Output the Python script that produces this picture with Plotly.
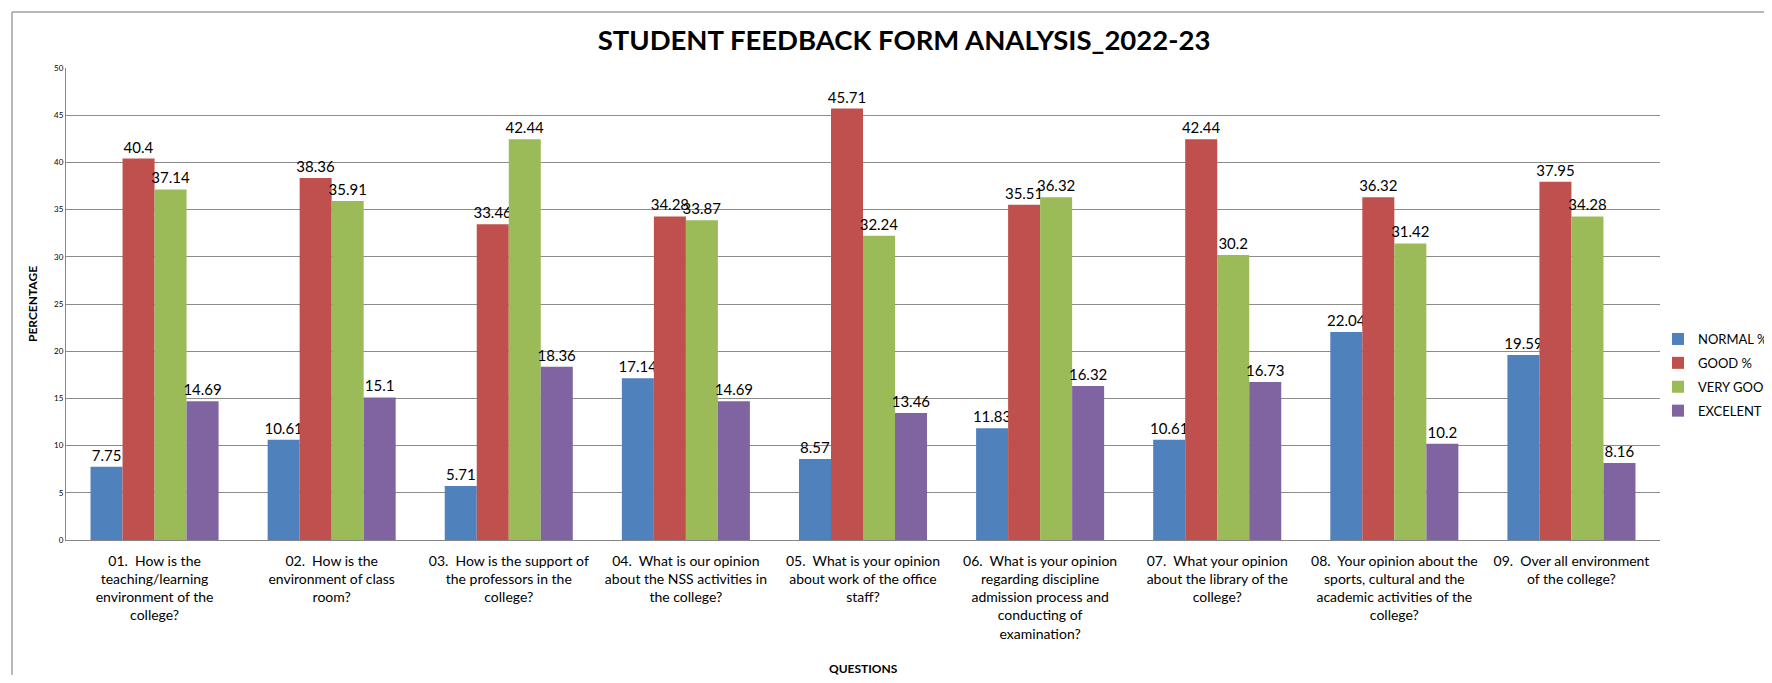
import plotly.graph_objects as go

categories = [
    "01.  How is the<br>teaching/learning<br>environment of the<br>college?",
    "02.  How is the<br>environment of class<br>room?",
    "03.  How is the support of<br>the professors in the<br>college?",
    "04.  What is our opinion<br>about the NSS activities in<br>the college?",
    "05.  What is your opinion<br>about work of the office<br>staff?",
    "06.  What is your opinion<br>regarding discipline<br>admission process and<br>conducting of<br>examination?",
    "07.  What your opinion<br>about the library of the<br>college?",
    "08.  Your opinion about the<br>sports, cultural and the<br>academic activities of the<br>college?",
    "09.  Over all environment<br>of the college?",
]
normal = [7.75, 10.61, 5.71, 17.14, 8.57, 11.83, 10.61, 22.04, 19.59]
good = [40.4, 38.36, 33.46, 34.28, 45.71, 35.51, 42.44, 36.32, 37.95]
very_good = [37.14, 35.91, 42.44, 33.87, 32.24, 36.32, 30.2, 31.42, 34.28]
excelent = [14.69, 15.1, 18.36, 14.69, 13.46, 16.32, 16.73, 10.2, 8.16]

series_names = ["NORMAL %", "GOOD %", "VERY GOOD %", "EXCELENT %"]
series_values = [normal, good, very_good, excelent]
colors = ["#4F81BD", "#C0504D", "#9BBB59", "#8064A2"]

FONT = "Lato, 'Open Sans', sans-serif"
OFF = 8  # page body margin
W, H = 1772 - 2 * OFF, 683 - 2 * OFF
# plot-area edges in page pixels, converted to figure pixels
L, R, T, B = 66 - OFF, 1660 - OFF, 68 - OFF, 540 - OFF

fig = go.Figure()
for name, vals, col in zip(series_names, series_values, colors):
    fig.add_trace(go.Bar(
        x=categories, y=vals, name=name,
        marker=dict(color=col, line=dict(width=0)),
        text=[f"{v:g}" for v in vals],
        textposition="outside",
        constraintext="none",
        cliponaxis=False,
        textfont=dict(family=FONT, size=15, color="#000000"),
        legendgroup=name,
    ))

pw, ph = R - L, B - T
def px(xpage):
    return (xpage - OFF - L) / pw
def py(ypage):
    return (B - (ypage - OFF)) / ph

fig.update_layout(
    width=W, height=H,
    margin=dict(l=L, r=W - R, t=T, b=H - B, autoexpand=False),
    paper_bgcolor="white", plot_bgcolor="white",
    barmode="group", bargap=0.277, bargroupgap=0,
    font=dict(family=FONT, color="#000000"),
    title=dict(
        text="<b>STUDENT FEEDBACK FORM ANALYSIS_2022-23</b>",
        x=(904 - OFF) / W, xref="container", xanchor="center",
        y=1 - (40 - OFF) / H, yref="container", yanchor="middle",
        font=dict(family=FONT, size=27.5, color="#000000"),
    ),
    legend=dict(
        x=px(1658), y=py(324), xanchor="left", yanchor="top",
        font=dict(family=FONT, size=13, color="#000000"),
        tracegroupgap=4, itemwidth=30, bgcolor="rgba(0,0,0,0)",
    ),
    showlegend=True,
    xaxis=dict(
        showgrid=False, showline=True, linecolor="#868686", linewidth=1,
        ticks="", tickfont=dict(family=FONT, size=14, color="#000000"),
        tickangle=0, ticklabelstandoff=8,
    ),
    yaxis=dict(
        range=[0, 50], dtick=5, showgrid=True, gridcolor="#8C8C8C", gridwidth=1,
        showline=True, linecolor="#868686", linewidth=1, zeroline=False,
        ticks="", tickfont=dict(family=FONT, size=8, color="#000000"),
    ),
    annotations=[
        dict(text="<b>QUESTIONS</b>", xref="paper", yref="paper",
             x=px(863), y=py(668), xanchor="center", yanchor="middle",
             showarrow=False, font=dict(family=FONT, size=12, color="#000000")),
        dict(text="<b>PERCENTAGE</b>", xref="paper", yref="paper",
             x=px(32), y=py(304), xanchor="center", yanchor="middle",
             textangle=-90,
             showarrow=False, font=dict(family=FONT, size=12, color="#000000")),
    ],
    shapes=[
        dict(type="line", xref="paper", yref="paper", x0=px(12), x1=px(1800),
             y0=py(12), y1=py(12), line=dict(color="#A0A0A0", width=1.5), layer="below"),
        dict(type="line", xref="paper", yref="paper", x0=px(12), x1=px(12),
             y0=py(12), y1=py(700), line=dict(color="#A0A0A0", width=1.5), layer="below"),
    ],
)

fig.write_html("out.html")
